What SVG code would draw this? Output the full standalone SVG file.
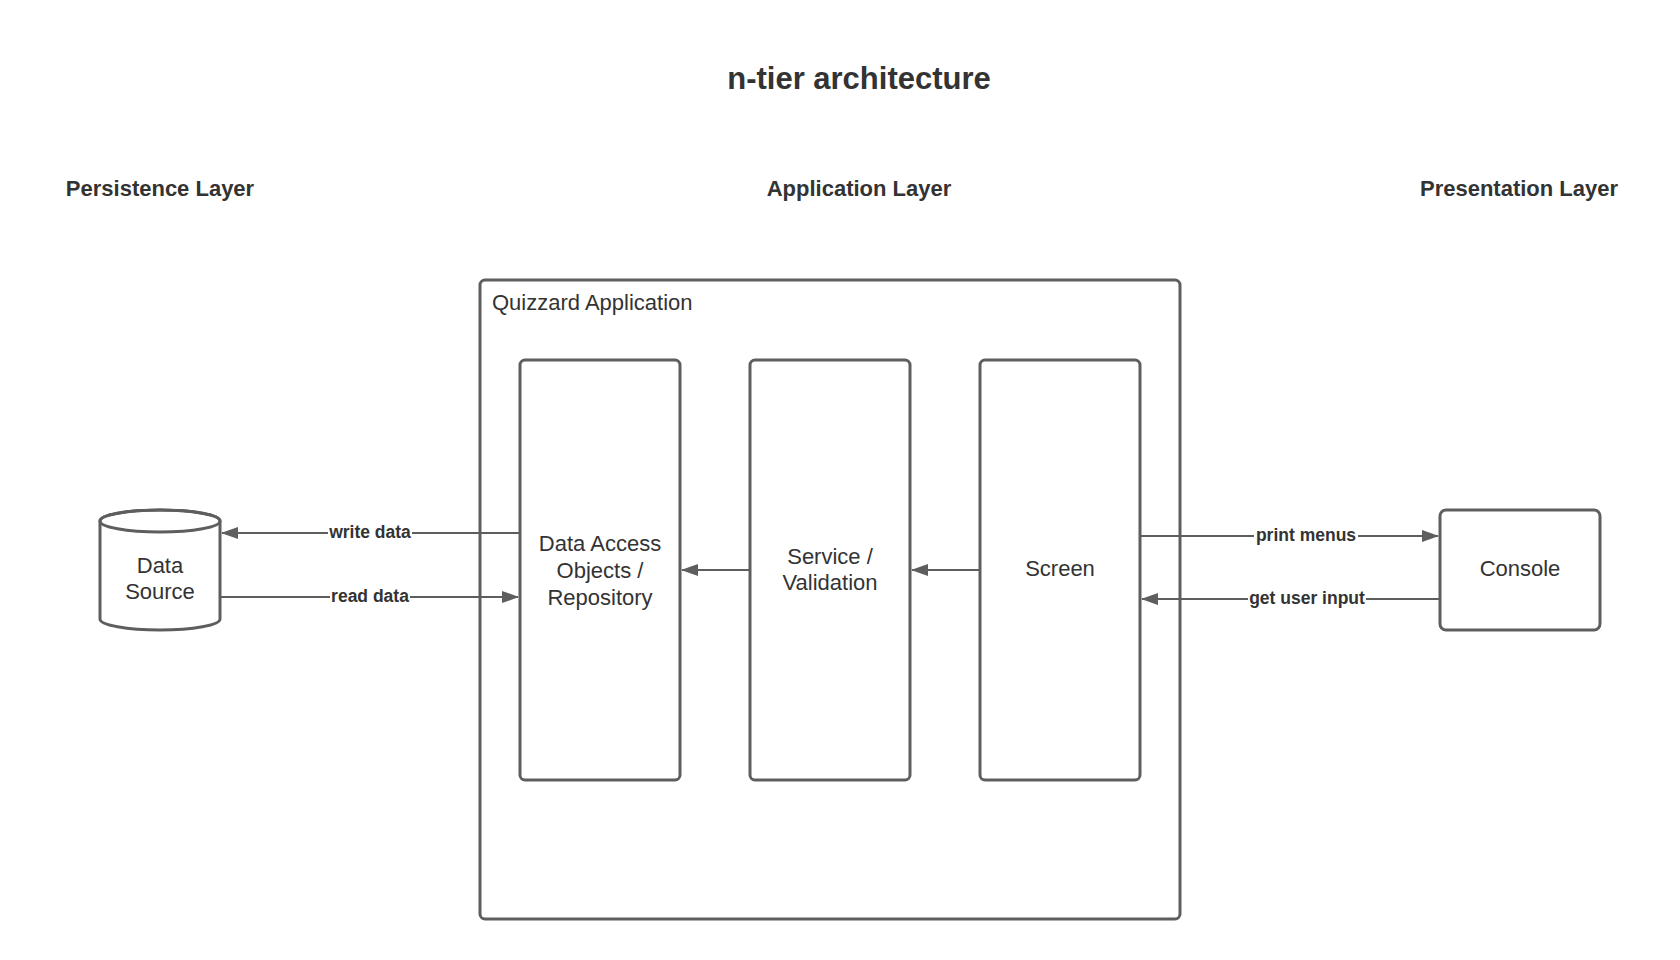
<svg xmlns="http://www.w3.org/2000/svg" width="1680" height="960" viewBox="0 0 1680 960">
  <defs>
    <marker id="arrow" viewBox="0 0 17 12" refX="16" refY="6" markerWidth="17" markerHeight="12" markerUnits="userSpaceOnUse" orient="auto">
      <path d="M0,0 L17,6 L0,12 Z" fill="#5e5e5e"/>
    </marker>
  </defs>
  <style>
    .box { fill: #ffffff; stroke: #5e5e5e; stroke-width: 3; }
    .t { font-family: "Liberation Sans", Arial, sans-serif; fill: #333333; text-anchor: middle; dominant-baseline: central; }
    .node { font-size: 22px; }
    .layer { font-size: 22px; font-weight: bold; }
    .title { font-size: 31px; font-weight: bold; }
    .lbl { font-size: 17.5px; font-weight: bold; }
    .conn { stroke: #5e5e5e; stroke-width: 2; fill: none; marker-end: url(#arrow); }
    .lblbg { fill: #ffffff; }
  </style>
  <rect width="1680" height="960" fill="#ffffff"/>

  <g id="title">
    <text class="t title" x="859" y="78">n-tier architecture</text>
  </g>
  <g id="layer-labels">
    <text class="t layer" x="160" y="188">Persistence Layer</text>
    <text class="t layer" x="859" y="188">Application Layer</text>
    <text class="t layer" x="1519" y="188">Presentation Layer</text>
  </g>

  <g id="quizzard-application">
    <rect class="box" x="480" y="280" width="700" height="639" rx="5"/>
    <text class="t node" x="492" y="302" style="text-anchor:start">Quizzard Application</text>
  </g>

  <g id="dao">
    <rect class="box" x="520" y="360" width="160" height="420" rx="5"/>
    <text class="t node" x="600" y="543">Data Access</text>
    <text class="t node" x="600" y="570">Objects /</text>
    <text class="t node" x="600" y="597">Repository</text>
  </g>

  <g id="service">
    <rect class="box" x="750" y="360" width="160" height="420" rx="5"/>
    <text class="t node" x="830" y="556">Service /</text>
    <text class="t node" x="830" y="582">Validation</text>
  </g>

  <g id="screen">
    <rect class="box" x="980" y="360" width="160" height="420" rx="5"/>
    <text class="t node" x="1060" y="568">Screen</text>
  </g>

  <g id="console">
    <rect class="box" x="1440" y="510" width="160" height="120" rx="6"/>
    <text class="t node" x="1520" y="568">Console</text>
  </g>

  <g id="data-source">
    <path class="box" d="M100,521 L100,619 A60,11 0 0 0 220,619 L220,521 A60,11 0 0 0 100,521 Z"/>
    <ellipse cx="160" cy="521" rx="60" ry="11" fill="none" stroke="#5e5e5e" stroke-width="3"/>
    <text class="t node" x="160" y="565">Data</text>
    <text class="t node" x="160" y="591">Source</text>
  </g>

  <g id="connectors">
    <line class="conn" x1="520" y1="533" x2="222" y2="533"/>
    <line class="conn" x1="220" y1="597" x2="518" y2="597"/>
    <line class="conn" x1="750" y1="570" x2="682" y2="570"/>
    <line class="conn" x1="980" y1="570" x2="912" y2="570"/>
    <line class="conn" x1="1140" y1="536" x2="1438" y2="536"/>
    <line class="conn" x1="1440" y1="599" x2="1142" y2="599"/>

    <rect class="lblbg" x="328" y="522" width="84" height="22"/>
    <text class="t lbl" x="370" y="532">write data</text>
    <rect class="lblbg" x="330" y="586" width="80" height="22"/>
    <text class="t lbl" x="370" y="596">read data</text>
    <rect class="lblbg" x="1254" y="525" width="104" height="22"/>
    <text class="t lbl" x="1306" y="535">print menus</text>
    <rect class="lblbg" x="1248" y="588" width="118" height="22"/>
    <text class="t lbl" x="1307" y="598">get user input</text>
  </g>
</svg>
